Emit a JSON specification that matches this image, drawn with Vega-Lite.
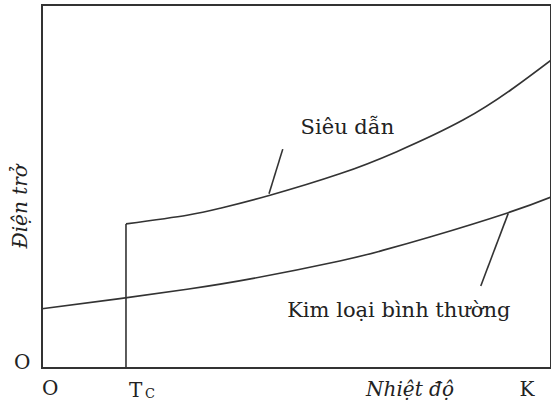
{
  "$schema": "https://vega.github.io/schema/vega-lite/v6.json",
  "width": 509,
  "height": 363,
  "autosize": {"type": "none"},
  "padding": {"left": 42, "top": 5, "right": 0, "bottom": 35},
  "background": "white",
  "config": {"view": {"stroke": "#333333", "strokeWidth": 2}},
  "datasets": {
    "curves": [
      {"series": "Siêu dẫn", "t": 16.5, "r": 39.7},
      {"series": "Siêu dẫn", "t": 28.5, "r": 42.1},
      {"series": "Siêu dẫn", "t": 35.0, "r": 44.0},
      {"series": "Siêu dẫn", "t": 44.8, "r": 47.6},
      {"series": "Siêu dẫn", "t": 58.5, "r": 53.5},
      {"series": "Siêu dẫn", "t": 69.7, "r": 59.6},
      {"series": "Siêu dẫn", "t": 82.7, "r": 68.3},
      {"series": "Siêu dẫn", "t": 92.5, "r": 77.0},
      {"series": "Siêu dẫn", "t": 100, "r": 84.8},
      {"series": "Kim loại", "t": 0, "r": 16.3},
      {"series": "Kim loại", "t": 15.3, "r": 19.1},
      {"series": "Kim loại", "t": 28.5, "r": 21.7},
      {"series": "Kim loại", "t": 41.5, "r": 24.7},
      {"series": "Kim loại", "t": 58.5, "r": 29.5},
      {"series": "Kim loại", "t": 66.4, "r": 32.2},
      {"series": "Kim loại", "t": 76.2, "r": 36.1},
      {"series": "Kim loại", "t": 91.6, "r": 42.8},
      {"series": "Kim loại", "t": 100, "r": 47.1}
    ],
    "segments": [
      {"name": "Tc", "t": 16.5, "r": 0, "t2": 16.5, "r2": 39.7},
      {"name": "p1", "t": 47.3, "r": 60.3, "t2": 44.6, "r2": 48.0},
      {"name": "p2", "t": 91.6, "r": 42.6, "t2": 86.2, "r2": 22.6}
    ],
    "labels": [
      {"text": "Siêu dẫn", "t": 60.0, "r": 64.5, "size": 21},
      {"text": "Kim loại bình thường", "t": 70.1, "r": 14.0, "size": 21},
      {"text": "O", "t": 1.6, "r": -7.4, "size": 20},
      {"text": "T", "t": 18.4, "r": -8.0, "size": 20},
      {"text": "C", "t": 21.2, "r": -8.3, "size": 13},
      {"text": "K", "t": 95.3, "r": -7.7, "size": 20},
      {"text": "O", "t": -3.9, "r": -0.3, "size": 20}
    ],
    "italic": [
      {"text": "Nhiệt độ", "t": 72.3, "r": -7.7, "angle": 0},
      {"text": "Điện trở", "t": -3.0, "r": 44.4, "angle": 270}
    ]
  },
  "layer": [
    {
      "data": {"name": "curves"},
      "mark": {"type": "line", "interpolate": "natural", "color": "#333333", "strokeWidth": 1.6},
      "encoding": {
        "x": {"field": "t", "type": "quantitative", "scale": {"domain": [0, 100], "nice": false}, "axis": null},
        "y": {"field": "r", "type": "quantitative", "scale": {"domain": [0, 100], "nice": false}, "axis": null},
        "detail": {"field": "series"}
      }
    },
    {
      "data": {"name": "segments"},
      "mark": {"type": "rule", "color": "#333333", "strokeWidth": 1.6},
      "encoding": {
        "x": {"field": "t", "type": "quantitative"},
        "y": {"field": "r", "type": "quantitative"},
        "x2": {"field": "t2"},
        "y2": {"field": "r2"}
      }
    },
    {
      "data": {"name": "labels"},
      "mark": {"type": "text", "font": "DejaVu Serif", "color": "#222222", "align": "center", "baseline": "alphabetic"},
      "encoding": {
        "x": {"field": "t", "type": "quantitative"},
        "y": {"field": "r", "type": "quantitative"},
        "text": {"field": "text"},
        "size": {"field": "size", "type": "quantitative", "scale": null}
      }
    },
    {
      "data": {"name": "italic"},
      "mark": {"type": "text", "font": "DejaVu Serif", "fontStyle": "italic", "fontSize": 20, "color": "#222222", "align": "center", "baseline": "alphabetic"},
      "encoding": {
        "x": {"field": "t", "type": "quantitative"},
        "y": {"field": "r", "type": "quantitative"},
        "text": {"field": "text"},
        "angle": {"field": "angle", "type": "quantitative", "scale": null}
      }
    }
  ]
}
